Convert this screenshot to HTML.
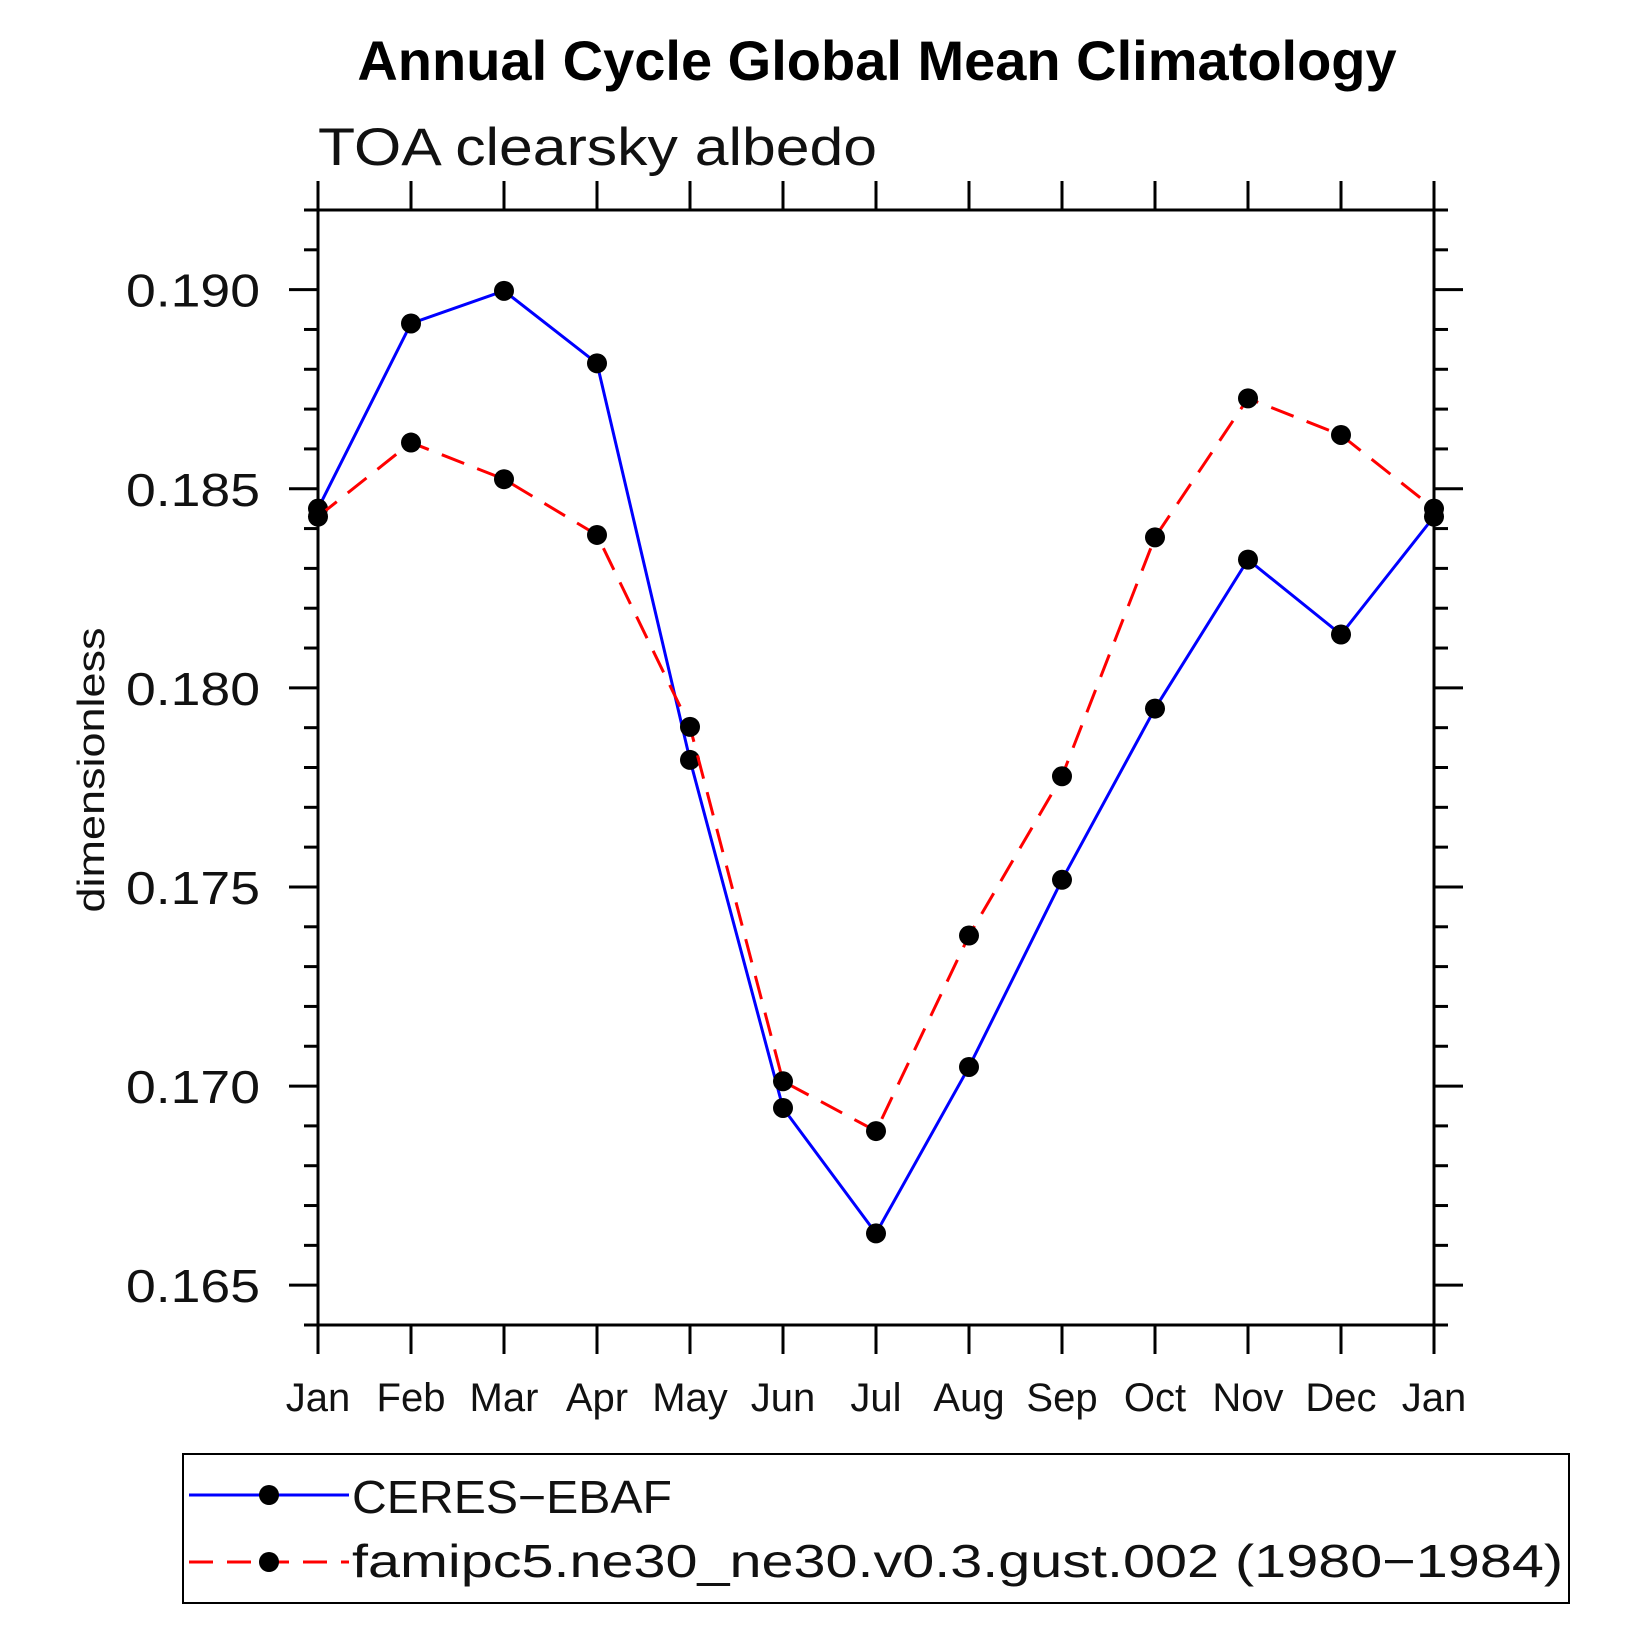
<!DOCTYPE html>
<html><head><meta charset="utf-8"><style>html,body{margin:0;padding:0;background:#fff}svg{display:block}</style></head>
<body>
<svg id="chart" width="1641" height="1641" viewBox="0 0 1641 1641" xmlns="http://www.w3.org/2000/svg">
<text x="877" y="80" text-anchor="middle" font-family="Liberation Sans, sans-serif" font-weight="bold" font-size="56">Annual Cycle Global Mean Climatology</text>
<text x="318" y="165" font-family="Liberation Sans, sans-serif" font-size="53" fill="#111" textLength="559" lengthAdjust="spacingAndGlyphs">TOA clearsky albedo</text>
<text transform="translate(104,770) rotate(-90)" text-anchor="middle" font-family="Liberation Sans, sans-serif" font-size="38" fill="#111" textLength="285" lengthAdjust="spacingAndGlyphs">dimensionless</text>
<g id="axes"></g>
<g id="series"></g>
<rect x="183" y="1454" width="1386" height="149" fill="none" stroke="#000" stroke-width="2"/>
<g>
<line x1="189" y1="1495" x2="349" y2="1495" stroke="#0000ff" stroke-width="3"/>
<circle cx="269" cy="1495" r="10" fill="#000"/>
<text x="352" y="1513" font-family="Liberation Sans, sans-serif" font-size="46" fill="#111" textLength="320" lengthAdjust="spacingAndGlyphs">CERES−EBAF</text>
</g>
<g>
<line x1="189" y1="1562" x2="349" y2="1562" stroke="#ff0000" stroke-width="3" stroke-dasharray="24,14"/>
<circle cx="269" cy="1562" r="10" fill="#000"/>
<text x="352" y="1577" font-family="Liberation Sans, sans-serif" font-size="46" fill="#111" textLength="1211" lengthAdjust="spacingAndGlyphs">famipc5.ne30_ne30.v0.3.gust.002 (1980−1984)</text>
</g>
</svg>
<script>
const months = ["Jan","Feb","Mar","Apr","May","Jun","Jul","Aug","Sep","Oct","Nov","Dec","Jan"];
const ceresValues = [0.1845,0.18915,0.18997,0.18815,0.17819,0.16945,0.1663,0.17048,0.17518,0.17948,0.18322,0.18134,0.1843];
const modelValues = [0.1843,0.18616,0.18524,0.18384,0.17902,0.17012,0.16887,0.17378,0.17778,0.18378,0.18727,0.18635,0.1845];
const yTickLabels = ["0.165","0.170","0.175","0.180","0.185","0.190"];
const yMin = 0.164, yMax = 0.192;
const L=318, R=1434, T=210, B=1325;
const NS="http://www.w3.org/2000/svg";
function X(i){return L+(R-L)*i/(months.length-1);}
function Y(v){return B-(B-T)*(v-yMin)/(yMax-yMin);}
function mk(tag,attrs,parent){const e=document.createElementNS(NS,tag);for(const k in attrs)e.setAttribute(k,attrs[k]);parent.appendChild(e);return e;}
const axes=document.getElementById('axes');
const frame=mk('rect',{x:L,y:T,width:R-L,height:B-T,fill:'none',stroke:'#000','stroke-width':3},axes);


for(let i=0;i<months.length;i++){
  const x=X(i);
  mk('line',{x1:x,y1:B,x2:x,y2:B+29,stroke:'#000','stroke-width':3},axes);
  mk('line',{x1:x,y1:T,x2:x,y2:T-29,stroke:'#000','stroke-width':3},axes);
  const t=mk('text',{x:x,y:1411,'text-anchor':'middle','font-family':'Liberation Sans, sans-serif','font-size':40,fill:'#111'},axes);
  t.textContent=months[i];
  
  
}
for(let k=0;k<=28;k++){
  const v=yMin+k*0.001, y=Y(v), major=(k%5===1);
  const len=major?29:14;
  mk('line',{x1:L,y1:y,x2:L-len,y2:y,stroke:'#000','stroke-width':3},axes);
  mk('line',{x1:R,y1:y,x2:R+len,y2:y,stroke:'#000','stroke-width':3},axes);
}
yTickLabels.forEach(s=>{
  const y=Y(parseFloat(s));
  const t=mk('text',{x:260,y:y+17,'text-anchor':'end','font-family':'Liberation Sans, sans-serif','font-size':46,fill:'#111',textLength:134,lengthAdjust:'spacingAndGlyphs'},axes);
  t.textContent=s;
  
  
});
const ser=document.getElementById('series');
function drawSeries(vals,color,dash,name){
  const g=mk('g',{},ser);
  
  
  const pts=vals.map((v,i)=>X(i)+','+Y(v)).join(' ');
  const a={points:pts,fill:'none',stroke:color,'stroke-width':3};
  if(dash)a['stroke-dasharray']=dash;
  mk('polyline',a,g);
  vals.forEach((v,i)=>{
    const c=mk('circle',{cx:X(i),cy:Y(v),r:10,fill:'#000'},g);
    
    
  });
}
drawSeries(ceresValues,'#0000ff',null,'ceres-ebaf-series');
drawSeries(modelValues,'#ff0000','24,14','model-series');
</script>
</body></html>
